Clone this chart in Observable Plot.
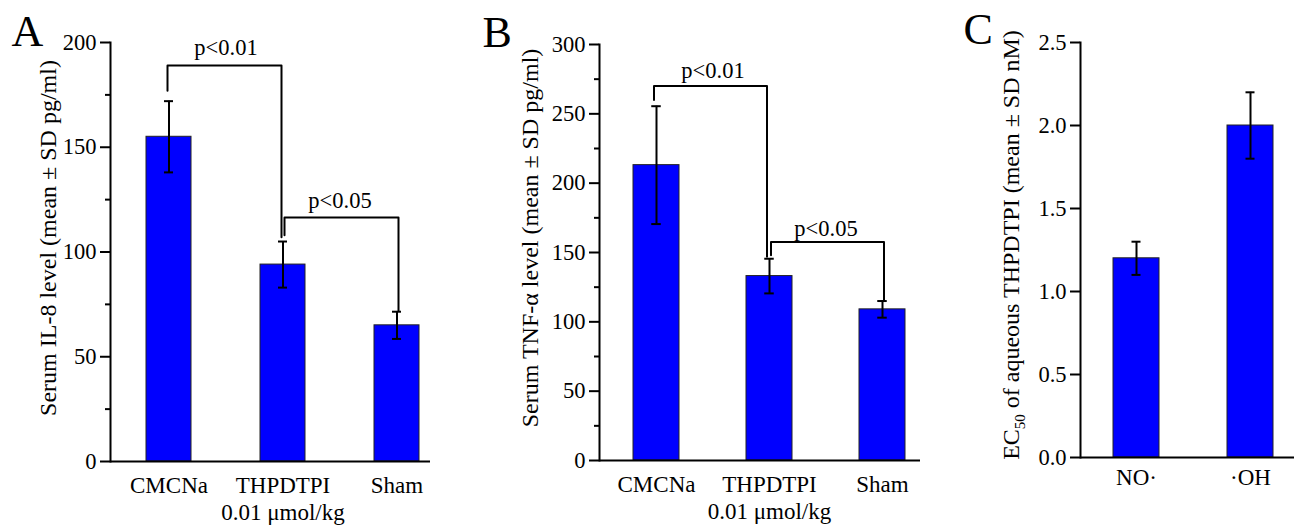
<!DOCTYPE html>
<html>
<head>
<meta charset="utf-8">
<script src="https://cdn.jsdelivr.net/npm/d3@7"></script>
<script src="https://cdn.jsdelivr.net/npm/@observablehq/plot@0.6"></script>
<style>
  html, body { margin: 0; padding: 0; background: #fff; }
  #wrap { position: relative; width: 1294px; height: 529px; overflow: hidden; background: #fff; }
  #wrap > svg { position: absolute; top: 0; }
</style>
</head>
<body>
<div id="wrap"></div>
<script>
// ---------- Data ----------
// Panel A: serum IL-8
const groupsA = ["CMCNa", "THPDTPI", "Sham"];
const xLabelsA = ["CMCNa", "THPDTPI\n0.01 μmol/kg", "Sham"];
const il8Mean = [155, 94, 65];
const il8SD = [17, 11, 6.5];
const ticksA = [0, 50, 100, 150, 200];
const minorTicksA = [25, 75, 125, 175];
const sigFromA = ["CMCNa", "THPDTPI"];
const sigToA = ["THPDTPI", "Sham"];
const sigLeftA = [177, 108];
const sigTopA = [189, 116.5];
const sigRightA = [107, 72];
const sigLabelA = ["p<0.01", "p<0.05"];
const sigLabelYA = [194, 121];

// Panel B: serum TNF-α
const groupsB = ["CMCNa", "THPDTPI", "Sham"];
const xLabelsB = ["CMCNa", "THPDTPI\n0.01 μmol/kg", "Sham"];
const tnfMean = [213, 133, 109];
const tnfSD = [42.5, 12.5, 6];
const ticksB = [0, 50, 100, 150, 200, 250, 300];
const minorTicksB = [25, 75, 125, 175, 225, 275];
const sigFromB = ["CMCNa", "THPDTPI"];
const sigToB = ["THPDTPI", "Sham"];
const sigLeftB = [260, 148];
const sigTopB = [270, 157.5];
const sigRightB = [147, 115.5];
const sigLabelB = ["p<0.01", "p<0.05"];
const sigLabelYB = [275.5, 162];

// Panel C: EC50
const groupsC = ["NO·", "·OH"];
const xLabelsC = ["NO·", "·OH"];
const ec50Mean = [1.2, 2.0];
const ec50SD = [0.1, 0.2];
const ticksC = [0, 0.5, 1.0, 1.5, 2.0, 2.5];
const minorTicksC = [];

// ---------- Layout / style ----------
const FONT = '"Liberation Serif", "Times New Roman", serif';
const BLUE = "#0000ff";

function panel(cfg) {
  const rows = cfg.groups.map((g, i) => ({
    g, label: cfg.xLabels[i], m: cfg.means[i], lo: cfg.means[i] - cfg.sds[i], hi: cfg.means[i] + cfg.sds[i]
  }));
  const n = cfg.groups.length;
  const pi = 1 - cfg.bw / cfg.step;
  const r0 = cfg.center0 - cfg.step / 2;
  const capInset = (cfg.bw - 9) / 2;

  const marks = [
    Plot.barY(rows, {x: "g", y: "m", fill: BLUE, stroke: "#222", strokeWidth: 1}),
    Plot.ruleX(rows, {x: "g", y1: "lo", y2: "hi", stroke: "#000", strokeWidth: 2}),
    Plot.tickY(rows, {x: "g", y: "hi", stroke: "#000", strokeWidth: 2, insetLeft: capInset, insetRight: capInset}),
    Plot.tickY(rows, {x: "g", y: "lo", stroke: "#000", strokeWidth: 2, insetLeft: capInset, insetRight: capInset}),
    Plot.axisY({ticks: cfg.ticks, tickSize: 10, tickPadding: 4, tickFormat: cfg.tickFormat, fontSize: 22.5, strokeWidth: 2, label: null}),
    Plot.frame({anchor: "left", stroke: "#000", strokeWidth: 2}),
    Plot.ruleY([cfg.yDomain[0]], {stroke: "#000", strokeWidth: 2}),
    Plot.text(rows, {x: "g", text: "label", frameAnchor: "bottom", lineAnchor: "top", dy: cfg.xLabelDy, fontSize: 23, lineHeight: 1.15, fill: "#000"}),
    Plot.text([cfg.yLabel], {text: d => d, frameAnchor: "left", rotate: -90, dx: cfg.yLabelDx, dy: cfg.yLabelDy, fontSize: 24, textAnchor: "middle", lineAnchor: "middle", fill: "#000"}),
    Plot.text([cfg.letter], {text: d => d, frameAnchor: "top-left", dx: cfg.letterDx, dy: cfg.letterDy, fontSize: 44, textAnchor: "start", lineAnchor: "bottom", fill: "#000"})
  ];
  if (cfg.minor.length) {
    marks.push(Plot.axisY({ticks: cfg.minor, tickSize: 5, tickFormat: () => "", strokeWidth: 2, label: null}));
  }
  if (cfg.sig) {
    cfg.sig.from.forEach((from, i) => {
      const to = cfg.sig.to[i];
      const pts = [
        {x: from, y: cfg.sig.left[i]},
        {x: from, y: cfg.sig.top[i]},
        {x: to, y: cfg.sig.top[i]},
        {x: to, y: cfg.sig.right[i]}
      ];
      marks.push(Plot.line(pts, {x: "x", y: "y", dx: cfg.sigDx[i], stroke: "#000", strokeWidth: 2, curve: "linear"}));
      marks.push(Plot.text([{x: from, y: cfg.sig.labelY[i], t: cfg.sig.label[i]}], {x: "x", y: "y", text: "t", dx: cfg.step / 2, lineAnchor: "bottom", textAnchor: "middle", fontSize: 22.5, fill: "#000"}));
    });
  }

  const svg = Plot.plot({
    width: cfg.width,
    height: 529,
    marginLeft: cfg.marginLeft,
    marginRight: cfg.marginRight,
    marginTop: cfg.marginTop,
    marginBottom: cfg.marginBottom,
    style: {background: "transparent", fontFamily: FONT, fontSize: "23px", color: "#000", overflow: "visible"},
    x: {type: "band", domain: cfg.groups, range: [r0, r0 + n * cfg.step], paddingInner: pi, paddingOuter: pi / 2, align: 0.5, axis: null},
    y: {domain: cfg.yDomain, nice: false, label: null},
    marks
  });
  // make sure the tick labels use the intended size
  svg.querySelectorAll('g[aria-label="y-axis tick label"]').forEach(g => {
    g.setAttribute("font-size", "22.5");
    g.querySelectorAll("text").forEach(t => t.setAttribute("font-size", "22.5"));
  });
  svg.style.left = cfg.left + "px";
  return svg;
}

const wrap = document.getElementById("wrap");

wrap.appendChild(panel({
  left: 0, width: 440, marginLeft: 110, marginRight: 10, marginTop: 42, marginBottom: 68,
  groups: groupsA, xLabels: xLabelsA, means: il8Mean, sds: il8SD,
  yDomain: [0, 200], ticks: ticksA, minor: minorTicksA, tickFormat: d3.format("d"),
  center0: 168, step: 114, bw: 45,
  sig: {from: sigFromA, to: sigToA, left: sigLeftA, top: sigTopA, right: sigRightA, label: sigLabelA, labelY: sigLabelYA},
  sigDx: [-1.5, 1.5],
  letter: "A", letterDx: -99, letterDy: 3,
  yLabel: "Serum IL-8 level (mean ± SD pg/ml)", yLabelDx: -62, yLabelDy: -14,
  xLabelDy: 13
}));

wrap.appendChild(panel({
  left: 470, width: 460, marginLeft: 129, marginRight: 10, marginTop: 44, marginBottom: 69,
  groups: groupsB, xLabels: xLabelsB, means: tnfMean, sds: tnfSD,
  yDomain: [0, 300], ticks: ticksB, minor: minorTicksB, tickFormat: d3.format("d"),
  center0: 185.5, step: 113, bw: 45.5,
  sig: {from: sigFromB, to: sigToB, left: sigLeftB, top: sigTopB, right: sigRightB, label: sigLabelB, labelY: sigLabelYB},
  sigDx: [-2.5, 1.5],
  letter: "B", letterDx: -117, letterDy: 2,
  yLabel: "Serum TNF-α level (mean ± SD pg/ml)", yLabelDx: -69, yLabelDy: -14.5,
  xLabelDy: 13
}));

const yLabelC = "EC50 of aqueous THPDTPI (mean ± SD nM)";
const svgC = panel({
  left: 950, width: 344, marginLeft: 130, marginRight: 0, marginTop: 42, marginBottom: 72,
  groups: groupsC, xLabels: xLabelsC, means: ec50Mean, sds: ec50SD,
  yDomain: [0, 2.5], ticks: ticksC, minor: minorTicksC, tickFormat: d3.format(".1f"),
  center0: 186, step: 114, bw: 46,
  sig: null, sigDx: [],
  letter: "C", letterDx: -117, letterDy: 1,
  yLabel: yLabelC, yLabelDx: -69, yLabelDy: -5,
  xLabelDy: 9
});
wrap.appendChild(svgC);

// subscript for EC50
svgC.querySelectorAll("text").forEach(t => {
  if (t.textContent === yLabelC) {
    t.textContent = "";
    const ns = "http://www.w3.org/2000/svg";
    const a = document.createElementNS(ns, "tspan"); a.textContent = "EC";
    const b = document.createElementNS(ns, "tspan"); b.textContent = "50"; b.setAttribute("dy", "6"); b.setAttribute("font-size", "15");
    const c = document.createElementNS(ns, "tspan"); c.textContent = " of aqueous THPDTPI (mean ± SD nM)"; c.setAttribute("dy", "-6");
    t.appendChild(a); t.appendChild(b); t.appendChild(c);
  }
});
</script>
</body>
</html>
